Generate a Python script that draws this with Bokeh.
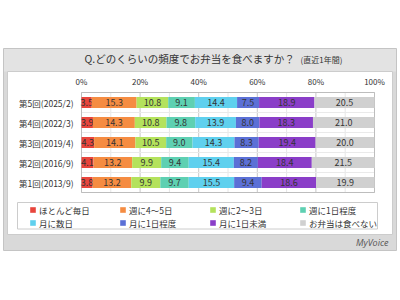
from bokeh.plotting import figure
from bokeh.models import Range1d, Legend, LegendItem
from bokeh.core.properties import value
from bokeh.embed import file_html
from bokeh.resources import INLINE

# ---------------- data ----------------
rounds = ["第5回(2025/2)", "第4回(2022/3)", "第3回(2019/4)", "第2回(2016/9)", "第1回(2013/9)"]
categories = ["ほとんど毎日", "週に4～5日", "週に2～3日", "週に1日程度",
              "月に数日", "月に1日程度", "月に1日未満", "お弁当は食べない"]
v_daily = [3.5, 3.9, 4.3, 4.1, 3.8]
v_week4to5 = [15.3, 14.3, 14.1, 13.2, 13.2]
v_week2to3 = [10.8, 10.8, 10.5, 9.9, 9.9]
v_week1 = [9.1, 9.8, 9.0, 9.4, 9.7]
v_month_few = [14.4, 13.9, 14.3, 15.4, 15.5]
v_month1 = [7.5, 8.0, 8.3, 8.2, 9.4]
v_month_less = [18.9, 18.3, 19.4, 18.4, 18.6]
v_none = [20.5, 21.0, 20.0, 21.5, 19.9]
series = [v_daily, v_week4to5, v_week2to3, v_week1, v_month_few, v_month1, v_month_less, v_none]
ticks = [0, 20, 40, 60, 80, 100]
tick_labels = ["0%", "20%", "40%", "60%", "80%", "100%"]
minor_ticks = [10, 30, 50, 70, 90]
title_main = "Q.どのくらいの頻度でお弁当を食べますか？"
title_sub = "(直近1年間)"
brand = "MyVoice"

# ---------------- styles ----------------
colors = ["#E8453C", "#F58C42", "#B4E25C", "#5ED0B2", "#5FD0EE", "#5B70D6", "#8A3EC8", "#D0D0D0"]
JP = value("Noto Sans CJK JP")
W, H = 400, 300
PX0, PXU = 81.0, 2.93       # pixel of 0% and pixels per percent
PY0, PYU = 102.0, 20.0      # pixel centre of first row and pixels per row


def dx(px):
    return (px - PX0) / PXU


def dy(py):
    return (py - PY0) / PYU


p = figure(width=W, height=H, output_backend="svg", toolbar_location=None,
           x_range=Range1d(dx(0), dx(W)), y_range=Range1d(dy(H), dy(0)),
           x_axis_type=None, y_axis_type=None, min_border=0,
           outline_line_color=None, background_fill_color="white",
           border_fill_color="white")
p.grid.visible = False

# outer grey frame, title band and inner white panel
p.quad(left=dx(3), right=dx(396), top=dy(48), bottom=dy(250),
       fill_color="#D9D9D9", line_color="#C4C4C4", line_width=1)
p.quad(left=dx(3.5), right=dx(395.5), top=dy(48.5), bottom=dy(71),
       fill_color="#E3E3E3", line_color=None)
p.quad(left=dx(7), right=dx(392), top=dy(71), bottom=dy(234),
       fill_color="white", line_color="#CCCCCC", line_width=1)

# title
p.text(x=[dx(84)], y=[dy(58)], text=[title_main], text_font=JP,
       text_font_size=value("10.5px"), text_color="#333333",
       text_align="left", text_baseline="middle")
p.text(x=[dx(300)], y=[dy(58.5)], text=[title_sub], text_font=JP,
       text_font_size=value("8px"), text_color="#333333",
       text_align="left", text_baseline="middle")

rows = list(range(len(rounds)))
top_y, bot_y = -0.5, len(rounds) - 0.5

# grid
p.segment(x0=minor_ticks, x1=minor_ticks, y0=[top_y] * len(minor_ticks), y1=[bot_y] * len(minor_ticks),
          line_color="#E6E6E6", line_width=1)
p.segment(x0=ticks, x1=ticks, y0=[top_y] * len(ticks), y1=[bot_y] * len(ticks),
          line_color="#C8C8C8", line_width=1)
seps = [r + 0.5 for r in rows[:-1]]
p.segment(x0=[0] * len(seps), x1=[100] * len(seps), y0=seps, y1=seps,
          line_color="#EAEAEA", line_width=1)
p.quad(left=[0], right=[100], top=[top_y], bottom=[bot_y],
       fill_color=None, line_color="#BDBDBD", line_width=1)

# tick labels
p.text(x=ticks, y=[dy(81)] * len(ticks), text=tick_labels, text_font=JP,
       text_font_size=value("8px"), text_color="#333333",
       text_align="center", text_baseline="middle")

# row labels
p.text(x=[dx(73)] * len(rounds), y=rows, text=rounds, text_font=JP,
       text_font_size=value("8.5px"), text_color="#333333",
       text_align="right", text_baseline="middle")

# stacked bars
lefts = [0.0] * len(rounds)
renderers = []
for vals, col in zip(series, colors):
    rights = [l + v for l, v in zip(lefts, vals)]
    r = p.hbar(y=rows, left=lefts, right=rights, height=0.56,
               fill_color=col, line_color=None)
    renderers.append(r)
    mids = [(l + rr) / 2 for l, rr in zip(lefts, rights)]
    p.text(x=mids, y=rows, text=["%.1f" % v for v in vals], text_font=JP,
           text_font_size=value("9px"), text_color="#333333",
           text_align="center", text_baseline="middle")
    lefts = rights

# legend frame
p.quad(left=dx(17), right=dx(377), top=dy(202), bottom=dy(228.5),
       fill_color="white", line_color="#CCCCCC", line_width=1)

legend = Legend(items=[LegendItem(label=c, renderers=[r]) for c, r in zip(categories, renderers)],
                orientation="horizontal", ncols=4,
                location=(29, H - 229), padding=0, margin=0, spacing=0,
                glyph_width=7, glyph_height=7, label_standoff=3, label_width=80,
                label_height=13, label_text_font="Noto Sans CJK JP",
                label_text_font_size="8.5px", label_text_color="#333333",
                border_line_color=None, background_fill_alpha=0)
p.add_layout(legend)

# brand
p.text(x=[dx(388)], y=[dy(242)], text=[brand], text_font=value("Open Sans"),
       text_font_size=value("9px"), text_font_style="italic", text_color="#555555",
       text_align="right", text_baseline="middle")

open("out.html", "w").write(file_html(p, INLINE))
